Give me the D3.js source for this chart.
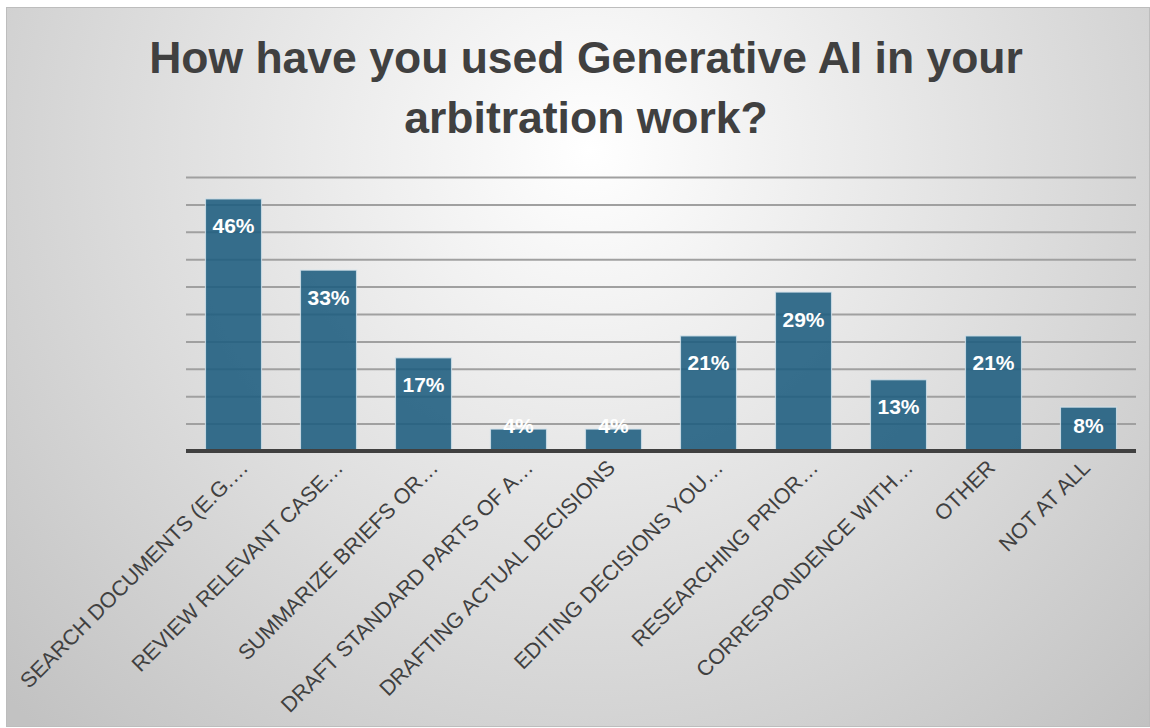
<!DOCTYPE html>
<html>
<head>
<meta charset="utf-8">
<script src="https://cdn.jsdelivr.net/npm/d3@7"></script>
<style>
  html, body { margin: 0; padding: 0; background: #ffffff; }
  svg { display: block; }
</style>
</head>
<body>
<svg id="chart"></svg>
<script>
// chart data
var categories = [
    'SEARCH DOCUMENTS (E.G.…',
    'REVIEW RELEVANT CASE…',
    'SUMMARIZE BRIEFS OR…',
    'DRAFT STANDARD PARTS OF A…',
    'DRAFTING ACTUAL DECISIONS',
    'EDITING DECISIONS YOU…',
    'RESEARCHING PRIOR…',
    'CORRESPONDENCE WITH…',
    'OTHER',
    'NOT AT ALL'
];
var values = [46, 33, 17, 4, 4, 21, 29, 13, 21, 8];
var gridTicks = [5, 10, 15, 20, 25, 30, 35, 40, 45, 50];
var titleLines = ['How have you used Generative AI in your', 'arbitration work?'];

function main() {
    const width = 1150;
    const height = 728;
    const plotLeft = 186;
    const plotRight = 1136;
    const plotTop = 177;
    const plotBottom = 451;

    const svg = d3.select('#chart')
        .attr('width', width)
        .attr('height', height);

    // background gradient
    const defs = svg.append('defs');
    const grad = defs.append('radialGradient')
        .attr('id', 'bg')
        .attr('gradientUnits', 'userSpaceOnUse')
        .attr('cx', 590).attr('cy', 150)
        .attr('r', 800);
    grad.append('stop').attr('offset', '0%').attr('stop-color', '#ffffff');
    grad.append('stop').attr('offset', '100%').attr('stop-color', '#c2c2c2');

    svg.append('rect')
        .attr('x', 6.5).attr('y', 7.5)
        .attr('width', 1143).attr('height', 719)
        .attr('fill', 'url(#bg)')
        .attr('stroke', '#bdbdbd')
        .attr('stroke-width', 1);

    // title
    svg.append('text')
        .attr('text-anchor', 'middle')
        .attr('font-family', 'Liberation Sans, Arial, sans-serif')
        .attr('font-weight', 'bold')
        .attr('font-size', 44.5)
        .attr('fill', '#404040')
        .selectAll('tspan')
        .data(titleLines)
        .join('tspan')
        .attr('x', 586)
        .attr('y', (d, i) => 73 + i * 60)
        .text(d => d);

    // scales
    const x = d3.scaleBand()
        .domain(categories)
        .range([plotLeft, plotRight])
        .paddingInner(0.41)
        .paddingOuter(0.205);

    const y = d3.scaleLinear()
        .domain([0, 50])
        .range([plotBottom, plotTop]);

    // gridlines
    const grid = svg.append('g')
        .attr('transform', 'translate(' + plotLeft + ',0)')
        .call(d3.axisLeft(y)
            .tickValues(gridTicks)
            .tickSize(-(plotRight - plotLeft))
            .tickFormat(''));
    grid.select('.domain').remove();
    grid.selectAll('line')
        .attr('stroke', '#a0a0a0')
        .attr('stroke-width', 2);

    // bars
    svg.append('g')
        .selectAll('rect')
        .data(values)
        .join('rect')
        .attr('x', (d, i) => x(categories[i]))
        .attr('y', d => y(d))
        .attr('width', x.bandwidth())
        .attr('height', d => y(0) - y(d))
        .attr('fill', '#1c5c7e')
        .attr('fill-opacity', 0.88)
        .attr('stroke', '#d4e4ec')
        .attr('stroke-opacity', 0.8)
        .attr('stroke-width', 1.2);

    // baseline
    svg.append('line')
        .attr('x1', plotLeft).attr('x2', plotRight)
        .attr('y1', plotBottom).attr('y2', plotBottom)
        .attr('stroke', '#404040')
        .attr('stroke-width', 4);

    // value labels
    svg.append('g')
        .selectAll('text')
        .data(values)
        .join('text')
        .attr('x', (d, i) => x(categories[i]) + x.bandwidth() / 2)
        .attr('y', d => Math.min(y(d) + 27, 425) + 7.5)
        .attr('text-anchor', 'middle')
        .attr('font-family', 'Liberation Sans, Arial, sans-serif')
        .attr('font-weight', 'bold')
        .attr('font-size', 21)
        .attr('fill', '#ffffff')
        .text(d => d + '%');

    // category labels (truncated ones sit a little further right)
    svg.append('g')
        .selectAll('text')
        .data(categories)
        .join('text')
        .attr('transform', d => {
            const dx = d.endsWith('…') ? 16 : 3;
            return 'translate(' + (x(d) + x.bandwidth() / 2 + dx) + ',469) rotate(-45)';
        })
        .attr('text-anchor', 'end')
        .attr('font-family', 'Liberation Sans, Arial, sans-serif')
        .attr('font-size', 21.5)
        .attr('fill', '#404040')
        .text(d => d);
}
main();
</script>
</body>
</html>
